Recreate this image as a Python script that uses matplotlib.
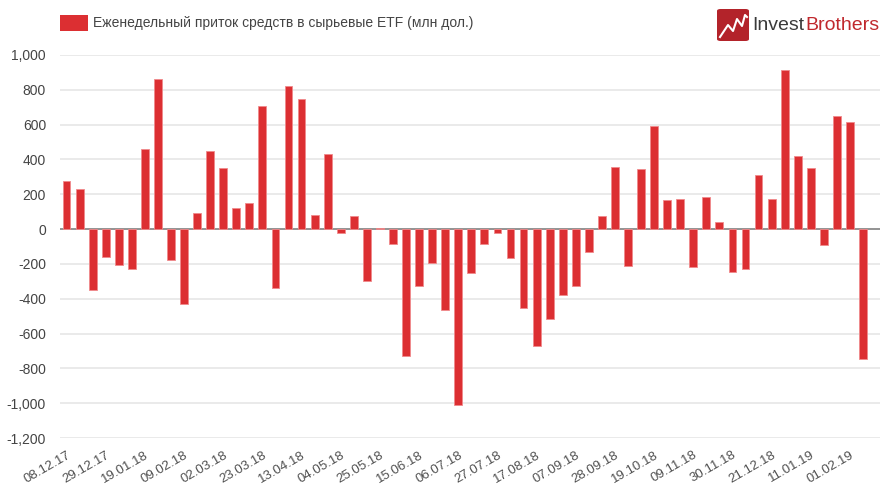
import matplotlib
matplotlib.use("Agg")
import matplotlib.pyplot as plt
from matplotlib.patches import FancyBboxPatch
import numpy as np

plt.rcParams['font.family'] = ['Liberation Sans', 'DejaVu Sans']

# Weekly flows into commodity ETFs (mln USD), week 08.12.17 .. 08.02.19
values = [
    276, 229, -349, -160, -208, -230, 458, 862, -177, -430,
    90, 446, 352, 122, 152, 708, -341, 822, 747, 80,
    432, -25, 74, -297, 8, -84, -730, -326, -192, -463,
    -1008, -253, -86, -25, -164, -455, -674, -516, -381, -326,
    -130, 76, 358, -211, 343, 590, 166, 175, -219, 185,
    38, -244, -230, 310, 171, 914, 419, 349, -91, 648,
    615, -749,
]
tick_labels = [
    "08.12.17", "29.12.17", "19.01.18", "09.02.18", "02.03.18", "23.03.18",
    "13.04.18", "04.05.18", "25.05.18", "15.06.18", "06.07.18", "27.07.18",
    "17.08.18", "07.09.18", "28.09.18", "19.10.18", "09.11.18", "30.11.18",
    "21.12.18", "11.01.19", "01.02.19",
]
tick_step = 3
legend_label = "Еженедельный приток средств в сырьевые ETF (млн дол.)"
y_ticks = [1000, 800, 600, 400, 200, 0, -200, -400, -600, -800, -1000, -1200]

W, H = 883, 491
fig = plt.figure(figsize=(W / 100, H / 100), dpi=100)
fig.patch.set_facecolor("white")
ax = fig.add_axes([60 / W, (H - 438) / H, (880 - 60) / W, (438 - 55) / H])

x = np.arange(len(values))
ax.bar(x, values, width=0.6, color="#dc2f32", edgecolor="#f08a8c", linewidth=0.6, zorder=3)

ax.set_ylim(-1200, 1000)
ax.set_xlim(-0.5, len(values) + 0.3)
ax.set_yticks(y_ticks)
ax.set_yticklabels([f"{v:,}" for v in y_ticks], color="#444444", fontsize=10)
ax.grid(axis="y", color="#e6e6e6", linewidth=1.2, zorder=0)
ax.axhline(0, color="#8c8c8c", linewidth=1.3, zorder=2)
ax.tick_params(axis="y", length=0, pad=10)
ax.tick_params(axis="x", length=0, pad=8)
for s in ax.spines.values():
    s.set_visible(False)

tick_pos = x[::tick_step][:len(tick_labels)]
ax.set_xticks(tick_pos)
ax.set_xticklabels(tick_labels, rotation=30, ha="right", rotation_mode="anchor",
                   color="#505050", fontsize=9.5)

# legend
fig.patches.append(matplotlib.patches.Rectangle((60 / W, 1 - 31 / H), 28 / W, 16 / H,
                                                transform=fig.transFigure, facecolor="#dc2f32",
                                                edgecolor="none"))
fig.text(93 / W, 1 - 23 / H, legend_label, fontsize=10, color="#444444", va="center", ha="left")

# logo
logo = FancyBboxPatch((717 / W, 1 - 41 / H), 32 / W, 32 / H,
                      boxstyle="round,pad=0,rounding_size=0.004",
                      transform=fig.transFigure, facecolor="#b3232a", edgecolor="none")
fig.patches.append(logo)
zx = np.array([720, 728, 733, 737, 742, 745, 747]) / W
zy = 1 - np.array([37, 25, 31, 19, 26, 15, 17]) / H
fig.lines.append(matplotlib.lines.Line2D(zx, zy, transform=fig.transFigure, color="white", linewidth=1.5))
t1 = fig.text(752 / W, 1 - 25 / H, "Invest", fontsize=14, color="#3a3a3a", va="center", ha="left")
fig.canvas.draw()
bb = t1.get_window_extent()
fig.text(bb.x1 / W + 0.001, 1 - 25 / H, "Brothers", fontsize=14, color="#c0282d", va="center", ha="left")

fig.savefig("out.png", dpi=100, facecolor="white")
